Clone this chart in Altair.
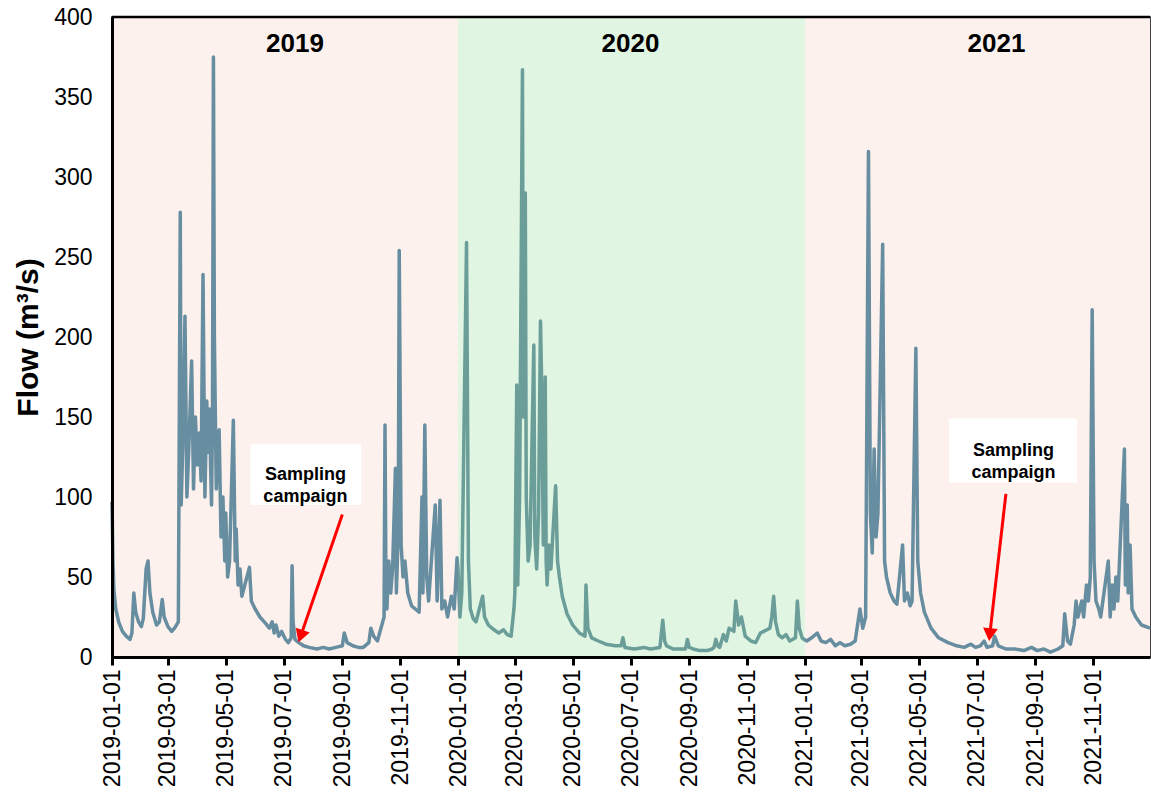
import altair as alt
import pandas as pd

# Daily river flow (m3/s), key points of the hydrograph per year
dates_2019 = [
    "2019-01-01", "2019-01-02", "2019-01-03", "2019-01-05", "2019-01-08", "2019-01-12",
    "2019-01-16", "2019-01-20", "2019-01-22", "2019-01-24", "2019-01-26", "2019-01-29",
    "2019-02-01", "2019-02-03", "2019-02-06", "2019-02-08", "2019-02-10", "2019-02-13",
    "2019-02-17", "2019-02-20", "2019-02-23", "2019-02-25", "2019-03-01", "2019-03-05",
    "2019-03-08", "2019-03-12", "2019-03-14", "2019-03-15", "2019-03-17", "2019-03-19",
    "2019-03-21", "2019-03-23", "2019-03-26", "2019-03-28", "2019-03-30", "2019-04-01",
    "2019-04-03", "2019-04-05", "2019-04-07", "2019-04-09", "2019-04-11", "2019-04-12",
    "2019-04-14", "2019-04-15", "2019-04-16", "2019-04-17", "2019-04-18", "2019-04-19",
    "2019-04-21", "2019-04-24", "2019-04-26", "2019-04-28", "2019-04-30", "2019-05-01",
    "2019-05-03", "2019-05-05", "2019-05-09", "2019-05-11", "2019-05-12", "2019-05-14",
    "2019-05-16", "2019-05-18", "2019-05-26", "2019-05-28", "2019-06-01", "2019-06-06",
    "2019-06-12", "2019-06-16", "2019-06-19", "2019-06-21", "2019-06-23", "2019-06-26",
    "2019-06-29", "2019-07-03", "2019-07-06", "2019-07-09", "2019-07-10", "2019-07-11",
    "2019-07-13", "2019-07-17", "2019-07-22", "2019-07-28", "2019-08-05", "2019-08-12",
    "2019-08-18", "2019-08-25", "2019-09-01", "2019-09-03", "2019-09-06", "2019-09-12",
    "2019-09-18", "2019-09-23", "2019-09-29", "2019-10-01", "2019-10-04", "2019-10-08",
    "2019-10-15", "2019-10-16", "2019-10-17", "2019-10-18", "2019-10-20", "2019-10-22",
    "2019-10-24", "2019-10-27", "2019-10-28", "2019-10-30", "2019-10-31", "2019-11-02",
    "2019-11-04", "2019-11-06", "2019-11-09", "2019-11-13", "2019-11-17", "2019-11-21",
    "2019-11-24", "2019-11-25", "2019-11-27", "2019-11-29", "2019-12-01", "2019-12-08",
    "2019-12-10", "2019-12-13", "2019-12-15", "2019-12-18", "2019-12-21", "2019-12-25",
    "2019-12-28", "2019-12-31",
]
flow_2019 = [
    97, 60, 42, 30, 22, 16,
    13, 11, 15, 40, 28, 22,
    19, 24, 55, 60, 40, 28,
    20, 22, 36, 25, 19, 16,
    18, 22, 278, 95, 140, 213,
    100, 130, 185, 105, 150, 120,
    140, 110, 239, 100, 160, 128,
    155, 120, 95, 150, 375, 200,
    105, 142, 75, 100, 60, 90,
    50, 60, 148, 60, 80, 45,
    55, 38, 56, 35, 30, 25,
    21, 18, 22, 15, 20, 13,
    16, 11, 9, 12, 57, 22,
    11, 9, 7, 6, 5, 6,
    5, 6, 7, 15, 9, 7,
    6, 6, 9, 18, 13, 10,
    25, 145, 45, 30, 60, 40,
    55, 118, 40, 80, 254, 70,
    50, 60, 40, 32, 30, 28,
    100, 40, 145, 50, 35, 95,
    35, 98, 30, 35, 25, 38,
    30, 62,
]

dates_2020 = [
    "2020-01-01", "2020-01-03", "2020-01-05", "2020-01-10", "2020-01-12", "2020-01-14",
    "2020-01-17", "2020-01-20", "2020-01-27", "2020-01-29", "2020-02-02", "2020-02-08",
    "2020-02-13", "2020-02-18", "2020-02-22", "2020-02-26", "2020-02-29", "2020-03-01",
    "2020-03-03", "2020-03-04", "2020-03-06", "2020-03-09", "2020-03-10", "2020-03-12",
    "2020-03-13", "2020-03-15", "2020-03-17", "2020-03-21", "2020-03-22", "2020-03-24",
    "2020-03-26", "2020-03-28", "2020-03-29", "2020-03-31", "2020-04-02", "2020-04-03",
    "2020-04-04", "2020-04-06", "2020-04-08", "2020-04-13", "2020-04-15", "2020-04-17",
    "2020-04-20", "2020-04-25", "2020-05-01", "2020-05-08", "2020-05-14", "2020-05-15",
    "2020-05-17", "2020-05-21", "2020-05-28", "2020-06-05", "2020-06-15", "2020-06-21",
    "2020-06-23", "2020-06-25", "2020-07-05", "2020-07-15", "2020-07-22", "2020-08-01",
    "2020-08-04", "2020-08-06", "2020-08-08", "2020-08-15", "2020-08-24", "2020-08-28",
    "2020-08-30", "2020-09-01", "2020-09-05", "2020-09-12", "2020-09-20", "2020-09-25",
    "2020-09-27", "2020-09-29", "2020-10-01", "2020-10-03", "2020-10-07", "2020-10-10",
    "2020-10-13", "2020-10-18", "2020-10-20", "2020-10-23", "2020-10-26", "2020-10-30",
    "2020-11-05", "2020-11-10", "2020-11-15", "2020-11-25", "2020-11-27", "2020-11-29",
    "2020-12-01", "2020-12-04", "2020-12-08", "2020-12-12", "2020-12-16", "2020-12-22",
    "2020-12-24", "2020-12-26", "2020-12-29", "2020-12-31",
]
flow_2020 = [
    55, 25, 40, 259, 60, 30,
    24, 22, 38, 25, 20, 17,
    15, 17, 14, 13, 30, 40,
    170, 45, 100, 367, 150, 290,
    100, 60, 70, 195, 75, 55,
    90, 210, 180, 70, 175, 60,
    45, 70, 55, 107, 60, 50,
    38, 27, 20, 15, 13, 45,
    18, 12, 10, 8, 7, 7,
    12, 6, 5, 6, 5, 6,
    23, 10, 7, 5, 5, 5,
    11, 6, 5, 4, 4, 5,
    6, 11, 7, 6, 14, 10,
    18, 16, 35, 20, 25, 13,
    10, 9, 15, 18, 25, 38,
    22, 14, 12, 14, 10, 12,
    35, 18, 12, 11,
]

dates_2021 = [
    "2021-01-03", "2021-01-08", "2021-01-14", "2021-01-18", "2021-01-23", "2021-01-28",
    "2021-02-02", "2021-02-07", "2021-02-12", "2021-02-18", "2021-02-23", "2021-02-28",
    "2021-03-03", "2021-03-06", "2021-03-09", "2021-03-11", "2021-03-13", "2021-03-15",
    "2021-03-17", "2021-03-19", "2021-03-24", "2021-03-26", "2021-03-28", "2021-04-01",
    "2021-04-05", "2021-04-08", "2021-04-14", "2021-04-16", "2021-04-19", "2021-04-22",
    "2021-04-24", "2021-04-28", "2021-04-30", "2021-05-03", "2021-05-07", "2021-05-14",
    "2021-05-22", "2021-06-01", "2021-06-10", "2021-06-18", "2021-06-25", "2021-06-30",
    "2021-07-05", "2021-07-09", "2021-07-12", "2021-07-18", "2021-07-20", "2021-07-24",
    "2021-08-01", "2021-08-10", "2021-08-20", "2021-08-28", "2021-09-03", "2021-09-10",
    "2021-09-17", "2021-09-25", "2021-09-30", "2021-10-02", "2021-10-05", "2021-10-08",
    "2021-10-12", "2021-10-14", "2021-10-16", "2021-10-20", "2021-10-22", "2021-10-25",
    "2021-10-27", "2021-10-29", "2021-10-31", "2021-11-02", "2021-11-04", "2021-11-07",
    "2021-11-09", "2021-11-17", "2021-11-19", "2021-11-21", "2021-11-23", "2021-11-25",
    "2021-11-27", "2021-12-04", "2021-12-05", "2021-12-07", "2021-12-08", "2021-12-10",
    "2021-12-12", "2021-12-16", "2021-12-22", "2021-12-31",
]
flow_2021 = [
    10, 12, 15, 10, 9, 11,
    7, 9, 7, 8, 10, 30,
    18, 25, 316, 90, 65, 130,
    75, 90, 258, 60, 50, 40,
    35, 33, 70, 35, 40, 32,
    35, 193, 60, 40, 28, 18,
    12, 9, 7, 6, 8, 6,
    7, 10, 6, 7, 13, 7,
    5, 5, 4, 6, 4, 5,
    3, 5, 7, 27, 10, 8,
    20, 35, 25, 35, 25, 45,
    35, 50, 217, 60, 35, 30,
    25, 60, 25, 45, 30, 50,
    35, 130, 45, 95, 40, 70,
    30, 25, 20, 18,
]

# Year shading bands and their labels
band_year = ["2019", "2020", "2021"]
band_start = ["2019-01-01", "2020-01-01", "2021-01-01"]
band_end = ["2020-01-01", "2021-01-01", "2021-12-31"]
label_date = ["2019-07-13", "2020-07-01", "2021-07-22"]
label_flow = [383, 383, 383]

# Sampling campaign callouts: box extent, text anchor, arrow tail and head
box_x1 = ["2019-05-27", "2021-06-02"]
box_x2 = ["2019-09-21", "2021-10-15"]
box_y1 = [95, 109]
box_y2 = [133, 149]
note_date = ["2019-07-24", "2021-08-09"]
note_flow = [114, 129]
arrow_x1 = ["2019-09-01", "2021-08-01"]
arrow_y1 = [89, 102]
arrow_x2 = ["2019-07-19", "2021-07-15"]
arrow_y2 = [13, 14]
arrow_angle = [199, 186]

tick_dates = [
    "2019-01-01", "2019-03-01", "2019-05-01", "2019-07-01", "2019-09-01", "2019-11-01",
    "2020-01-01", "2020-03-01", "2020-05-01", "2020-07-01", "2020-09-01", "2020-11-01",
    "2021-01-01", "2021-03-01", "2021-05-01", "2021-07-01", "2021-09-01", "2021-11-01",
]
y_ticks = [0, 50, 100, 150, 200, 250, 300, 350, 400]

flow = pd.DataFrame({
    "date": dates_2019 + dates_2020 + dates_2021,
    "flow": flow_2019 + flow_2020 + flow_2021,
})
bands = pd.DataFrame({"year": band_year, "start": band_start, "end": band_end,
                      "ldate": label_date, "lflow": label_flow})
notes = pd.DataFrame({
    "bx1": box_x1, "bx2": box_x2, "by1": box_y1, "by2": box_y2,
    "nd": note_date, "nf": note_flow,
    "ax1": arrow_x1, "ay1": arrow_y1, "ax2": arrow_x2, "ay2": arrow_y2,
    "ang": arrow_angle,
    "txt": [["Sampling", "campaign"], ["Sampling", "campaign"]],
})


def ts(s):
    y, m, d = (int(p) for p in s.split("-"))
    return alt.DateTime(year=y, month=m, date=d, utc=True)


xscale = alt.Scale(type="utc", domain=[ts("2019-01-01"), ts("2021-12-31")], nice=False)
yscale = alt.Scale(domain=[0, 400], nice=False)

xaxis = alt.Axis(
    values=[ts(s) for s in tick_dates],
    labelExpr="utcFormat(datum.value, '%Y-%m-%d')",
    labelAngle=270, labelFontSize=23, labelPadding=4,
    tickSize=8, tickWidth=3, domainWidth=3, grid=False, title=None, zindex=1,
)
yaxis = alt.Axis(
    values=y_ticks,
    labelFontSize=23, ticks=False, labelPadding=20, domainWidth=3, grid=False,
    title="Flow (m³/s)", titleFontSize=30, titleFontWeight="bold", titlePadding=10,
    zindex=1,
)


def X(field):
    return alt.X(field, type="temporal", scale=xscale, axis=xaxis)


def Y(field):
    return alt.Y(field, type="quantitative", scale=yscale, axis=yaxis)


pink = alt.Chart(bands).transform_filter("datum.year != '2020'").transform_calculate(
    lo="0", hi="400"
).mark_rect(color="#fcf1ec").encode(
    x=X("start"), x2="end", y=Y("lo"), y2="hi",
)

line = alt.Chart(flow).mark_line(color="#678da1", strokeWidth=3.5, strokeJoin="round").encode(
    x=X("date"), y=Y("flow"),
)

# translucent green wash over 2020, laid over the line so it tints it too
green = alt.Chart(bands).transform_filter("datum.year == '2020'").transform_calculate(
    lo="0", hi="400"
).mark_rect(color="#78d282", opacity=0.23).encode(
    x=X("start"), x2="end", y=Y("lo"), y2="hi",
)

# frame line along the top of the plot
top_edge = alt.Chart(bands).transform_filter("datum.year == '2019'").transform_calculate(
    hi="400"
).mark_rule(color="black", strokeWidth=2.5).encode(
    y=Y("hi"),
)

year_text = alt.Chart(bands).mark_text(
    font="Liberation Sans", fontSize=26, fontWeight="bold", color="black", baseline="middle"
).encode(
    x=X("ldate"), y=Y("lflow"), text="year:N",
)

boxes = alt.Chart(notes).mark_rect(color="white").encode(
    x=X("bx1"), x2="bx2", y=Y("by1"), y2="by2",
)

note_text = alt.Chart(notes).mark_text(
    font="Liberation Sans", fontSize=18, fontWeight="bold", color="black",
    baseline="middle", lineHeight=22,
).encode(
    x=X("nd"), y=Y("nf"), text="txt",
)

shafts = alt.Chart(notes).mark_rule(color="#ff0000", strokeWidth=3).encode(
    x=X("ax1"), x2="ax2", y=Y("ay1"), y2="ay2",
)

heads = alt.Chart(notes).mark_point(
    shape="triangle-up", filled=True, color="#ff0000", size=220, opacity=1
).encode(
    x=X("ax2"), y=Y("ay2"),
    angle=alt.Angle("ang:Q", scale=None),
)

chart = alt.layer(
    pink, line, green, top_edge, year_text, boxes, note_text, shafts, heads
).properties(
    width=1038, height=640,
    padding={"left": 112, "top": 17, "right": 1, "bottom": 144},
    autosize="none",
).configure_view(
    stroke="black", strokeWidth=1.5
).configure_axis(
    labelFont="Liberation Sans", titleFont="Liberation Sans",
    labelColor="black", titleColor="black", domainColor="black", tickColor="black",
)

chart.save("out.html", embed_options={"renderer": "svg", "actions": False})
